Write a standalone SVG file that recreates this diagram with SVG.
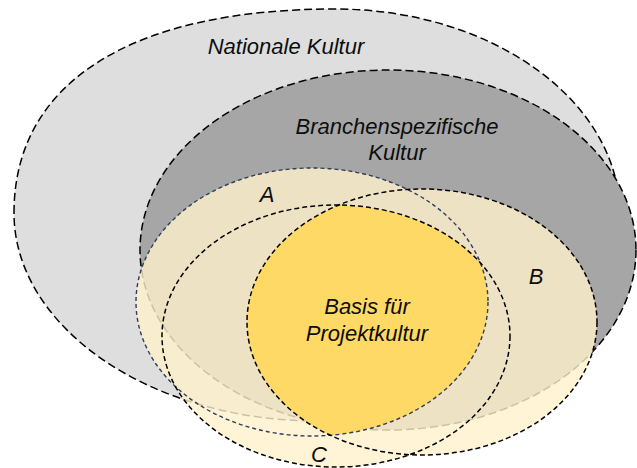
<svg xmlns="http://www.w3.org/2000/svg" width="637" height="468" viewBox="0 0 637 468">
<style>
.lbl{font-family:"Liberation Sans",Arial,sans-serif;font-style:italic;font-size:22px;fill:#0d0d0d;text-anchor:middle}
.big{stroke:#000;stroke-width:1.5;stroke-dasharray:8 4}
.ring{fill:none;stroke:#000;stroke-width:1.5;stroke-dasharray:5 3}
.ringA{fill:none;stroke:#2f3e5c;stroke-width:1.4;stroke-dasharray:4 3}
</style>
<defs>
<ellipse id="eA" cx="312" cy="302" rx="176" ry="134"/>
<ellipse id="eB" cx="422" cy="322" rx="175" ry="133"/>
<ellipse id="eC" cx="336" cy="336" rx="174" ry="131"/>
<clipPath id="clipB"><use href="#eB"/></clipPath>
<clipPath id="clipC"><use href="#eC"/></clipPath>
</defs>
<g id="nationale">
<path class="big" fill="#dedede" d="M14,213 C14,80 135,9 335,9 C492,9 620,101 620,215 C620,329 475,421 318,421 C150,421 14,327 14,213 Z"/>
<text class="lbl" x="286" y="54">Nationale Kultur</text>
</g>
<g id="branchen">
<ellipse class="big" fill="#a6a6a6" cx="388" cy="250" rx="248" ry="180"/>
<text class="lbl" x="397" y="134">Branchenspezifische</text>
<text class="lbl" x="397" y="160">Kultur</text>
</g>
<g id="circle-fills" opacity="0.8" fill="#fff2cc">
<use href="#eA"/>
<use href="#eB"/>
<use href="#eC"/>
</g>
<g id="basis">
<g clip-path="url(#clipB)"><g clip-path="url(#clipC)"><use href="#eA" fill="#ffd966"/></g></g>
<text class="lbl" x="367" y="314">Basis für</text>
<text class="lbl" x="367" y="341">Projektkultur</text>
</g>
<g id="circle-a">
<use href="#eA" class="ringA"/>
<text class="lbl" x="267" y="202">A</text>
</g>
<g id="circle-b">
<use href="#eB" class="ring"/>
<text class="lbl" x="536" y="284">B</text>
</g>
<g id="circle-c">
<use href="#eC" class="ring"/>
<text class="lbl" x="319" y="462">C</text>
</g>
</svg>
